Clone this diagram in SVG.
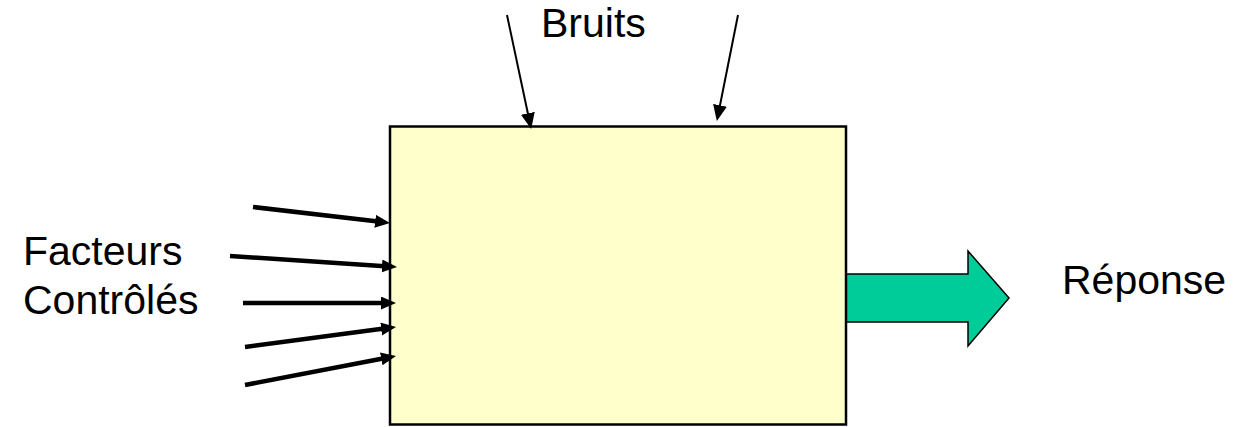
<svg xmlns="http://www.w3.org/2000/svg" width="1242" height="427" viewBox="0 0 1242 427">
<style>
.lbl{font-family:"Liberation Sans",Arial,sans-serif;font-size:41px;fill:#000}
.thick{stroke:#000;stroke-width:4.5;fill:none}
.thin{stroke:#000;stroke-width:2;fill:none}
</style>
<defs>
<marker id="hk" markerUnits="userSpaceOnUse" markerWidth="16" markerHeight="14" refX="3" refY="6.5" orient="auto" viewBox="0 0 16 14"><path d="M0,0 L15,6.5 L0,13 z" fill="#000"/></marker>
<marker id="ht" markerUnits="userSpaceOnUse" markerWidth="16" markerHeight="15" refX="5" refY="7" orient="auto" viewBox="0 0 16 15"><path d="M0,0 L16,7 L0,14 z" fill="#000"/></marker>
</defs>
<g id="response-arrow">
<polygon points="846,274 968,274 968,251 1009,298 968,346 968,322 846,322" fill="#00CC99" stroke="#000" stroke-width="1.5" stroke-linejoin="miter"/>
</g>
<g id="system">
<rect x="390" y="126.5" width="456" height="298" fill="#FFFFCC" stroke="#000" stroke-width="2.5"/>
</g>
<g id="connectors">
<line class="thick" x1="253" y1="207" x2="378.1" y2="221.6" marker-end="url(#hk)"/>
<line class="thick" x1="230" y1="256" x2="385" y2="266.2" marker-end="url(#hk)"/>
<line class="thick" x1="243" y1="303" x2="384" y2="303" marker-end="url(#hk)"/>
<line class="thick" x1="245" y1="347" x2="384.1" y2="328.6" marker-end="url(#hk)"/>
<line class="thick" x1="245" y1="385" x2="384.2" y2="358.3" marker-end="url(#hk)"/>
<line class="thin" x1="507" y1="15" x2="528.9" y2="118.2" marker-end="url(#ht)"/>
<line class="thin" x1="738" y1="15" x2="719" y2="110.2" marker-end="url(#ht)"/>
</g>
<g id="label-bruits"><text class="lbl" x="541" y="37">Bruits</text></g>
<g id="label-facteurs"><text class="lbl" x="23" y="265">Facteurs</text><text class="lbl" x="23" y="314">Contrôlés</text></g>
<g id="label-reponse"><text class="lbl" x="1062" y="294">Réponse</text></g>
</svg>
